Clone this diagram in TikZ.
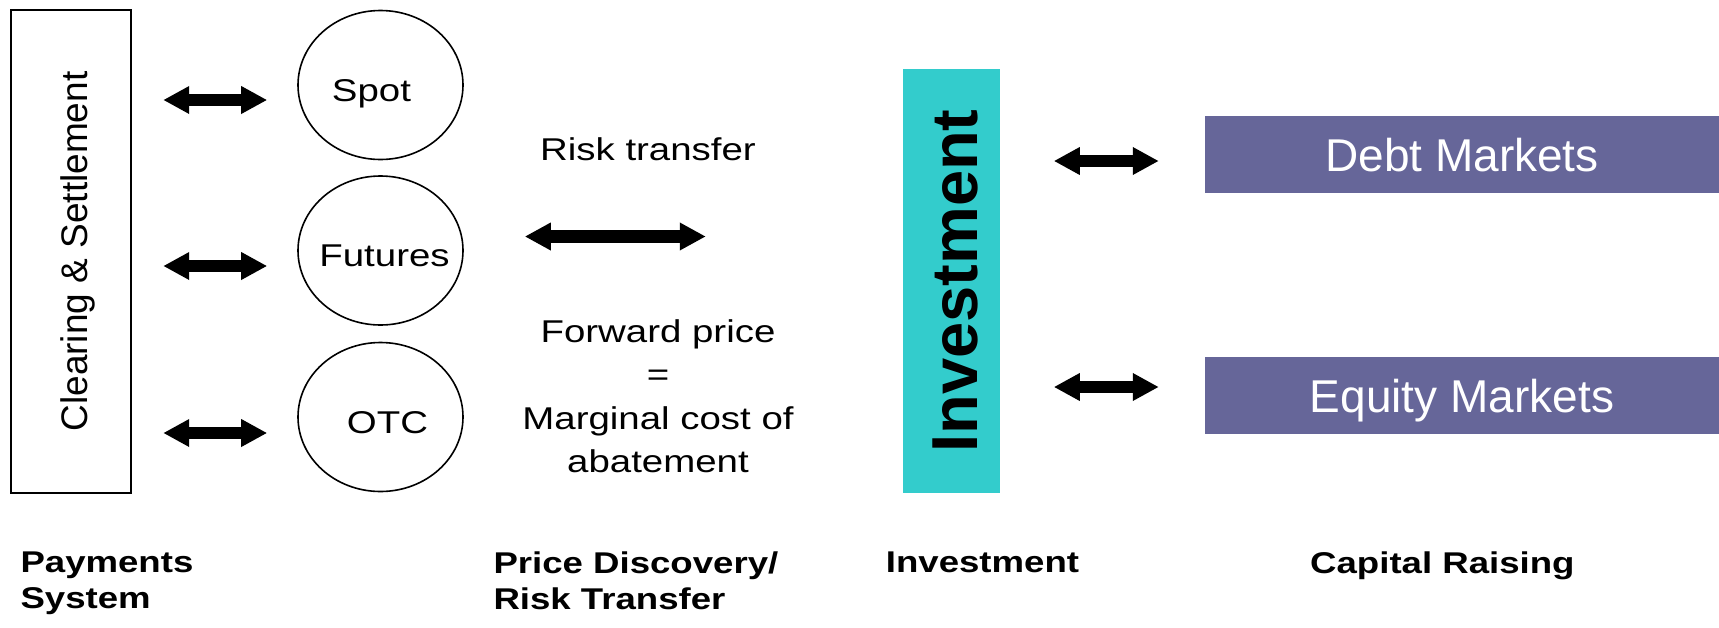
\documentclass[tikz,border=0pt]{standalone}
\usepackage{fontspec}
\setmainfont{Liberation Sans}
\newfontfamily\labelfont{Liberation Sans}[FakeStretch=1.22]
\usetikzlibrary{shapes.geometric,arrows.meta}
\definecolor{invteal}{HTML}{33CCCC}
\definecolor{mktpurple}{HTML}{666699}
\tikzset{
  dbl/.style={
    line width = 12pt,
    >={Triangle[length=26pt,width=26pt]},
    <->
  },
}
\tikzset{
  clearbox/.style={
    shape = rectangle,
    draw,
    line width = 2pt,
    rotate = 90,
    minimum width = 483pt,
    minimum height = 120pt,
    inner sep = 0pt,
    text height = 32pt,
    text depth = 0pt,
    font = {\fontsize{37}{44}\selectfont}
  },
  venue/.style={
    shape = ellipse,
    draw,
    line width = 1.6pt,
    minimum width = 165pt,
    minimum height = 149pt,
    inner sep = 0pt,
    text height = 32pt,
    text depth = 0pt,
    font = {\labelfont\fontsize{31.5}{38}\selectfont}
  },
  note/.style={
    inner sep = 0pt,
    font = {\labelfont\fontsize{31.5}{43.5}\selectfont}
  },
  invbox/.style={
    shape = rectangle,
    fill = invteal,
    rotate = 90,
    minimum width = 424pt,
    minimum height = 97pt,
    inner sep = 0pt,
    text height = 51pt,
    text depth = 0pt,
    font = {\bfseries\fontsize{65}{70}\selectfont}
  },
  market/.style={
    shape = rectangle,
    fill = mktpurple,
    text = white,
    minimum width = 514pt,
    minimum height = 77pt,
    inner sep = 0pt,
    text height = 33pt,
    text depth = 0pt,
    font = {\fontsize{46}{52}\selectfont}
  },
  head/.style={
    anchor = north west,
    align = left,
    inner sep = 0pt,
    font = {\labelfont\bfseries\fontsize{30}{36}\selectfont}
  }
}

\begin{document}
\begin{tikzpicture}[x=1pt,y=-1pt]
    \useasboundingbox (0,0) rectangle (1719,627);

    % payments system
    \node[clearbox] (clear) at (71,251.5) {Clearing \& Settlement};
    \node[venue] (spot) at (380.5,85) {\makebox[0pt]{\hspace*{-18pt}Spot}};
    \node[venue] (fut) at (380.5,250.5) {\makebox[0pt]{\hspace*{8pt}Futures}};
    \node[venue] (otc) at (380.5,417) {\makebox[0pt]{\hspace*{14pt}OTC}};
    \draw[dbl] ([xshift=-134pt,yshift=-15pt]spot.west) -- ([xshift=-30pt,yshift=-15pt]spot.west);
    \draw[dbl] ([xshift=-134pt,yshift=-15.5pt]fut.west) -- ([xshift=-30pt,yshift=-15.5pt]fut.west);
    \draw[dbl] ([xshift=-134pt,yshift=-16pt]otc.west) -- ([xshift=-30pt,yshift=-16pt]otc.west);

    % price discovery
    \node[note, anchor=base] (risk) at (648,160) {Risk transfer};
    \draw[dbl, line width=13pt] ([xshift=61pt,yshift=14pt]fut.east) -- ([xshift=242pt,yshift=14pt]fut.east);
    \node[note, anchor=north, align=center] (fwd) at (658,319) {Forward price\\=\\Marginal cost of\\abatement};

    % investment and capital raising
    \node[invbox] (invest) at (951.5,281) {Investment};
    \node[market] (debt) at (1462,154.5) {Debt Markets};
    \node[market] (equity) at (1462,395.5) {Equity Markets};
    \draw[dbl] ([xshift=-151pt,yshift=-6.5pt]debt.west) -- ([xshift=-46pt,yshift=-6.5pt]debt.west);
    \draw[dbl] ([xshift=-151pt,yshift=8.5pt]equity.west) -- ([xshift=-46pt,yshift=8.5pt]equity.west);

    % column titles
    \node[head] (pay) at (20.3,552) {Payments\\System};
    \node[head] (price) at (493.3,552) {Price Discovery/\\Risk Transfer};
    \node[head] (invlab) at (885.7,552) {Investment};
    \node[head] (capital) at (1310,552) {Capital Raising};
\end{tikzpicture}
\end{document}
